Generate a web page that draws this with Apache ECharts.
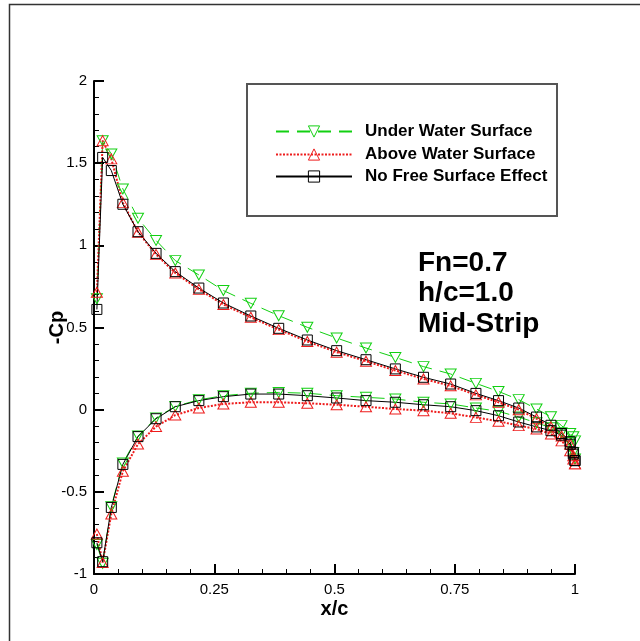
<!DOCTYPE html>
<html>
<head>
<meta charset="utf-8">
<script src="https://cdn.jsdelivr.net/npm/echarts@6/dist/echarts.min.js"></script>
<style>
html,body{margin:0;padding:0;background:#fff;}
#chart{width:640px;height:641px;}
</style>
</head>
<body>
<div id="chart"></div>
<script>
// x/c stations (shared by every curve)
const xs = [0.006,0.018,0.036,0.060,0.0915,0.129,0.169,0.218,0.269,0.326,0.384,0.4435,0.5045,0.5655,0.6265,0.685,0.7415,0.794,0.841,0.883,0.920,0.950,0.972,0.990,0.9965,1.0];

// -Cp, Under Water Surface
const underUpper = [0.675,1.637,1.556,1.343,1.165,1.03,0.907,0.82,0.725,0.647,0.572,0.501,0.436,0.375,0.318,0.262,0.217,0.16,0.111,0.061,0.004,-0.043,-0.097,-0.145,-0.165,-0.19];
const underLower = [-0.82,-0.935,-0.59,-0.325,-0.16,-0.05,0.02,0.06,0.085,0.1,0.105,0.1,0.085,0.075,0.065,0.045,0.035,0.01,-0.01,-0.045,-0.08,-0.11,-0.14,-0.2,-0.26,-0.3];

// -Cp, Above Water Surface
const aboveUpper = [0.714,1.637,1.526,1.26,1.08,0.945,0.832,0.732,0.64,0.562,0.487,0.415,0.35,0.295,0.238,0.187,0.145,0.09,0.045,0.0,-0.055,-0.105,-0.16,-0.21,-0.28,-0.33];
const aboveLower = [-0.757,-0.93,-0.635,-0.375,-0.209,-0.103,-0.033,0.01,0.035,0.045,0.045,0.039,0.03,0.018,0.004,-0.006,-0.022,-0.047,-0.071,-0.097,-0.118,-0.148,-0.19,-0.25,-0.3,-0.33];

// -Cp, No Free Surface Effect
const noneUpper = [0.61,1.535,1.455,1.25,1.083,0.951,0.84,0.74,0.649,0.570,0.495,0.424,0.359,0.304,0.248,0.197,0.156,0.099,0.055,0.01,-0.045,-0.095,-0.145,-0.195,-0.26,-0.31];
const noneLower = [-0.81,-0.925,-0.595,-0.333,-0.164,-0.055,0.018,0.055,0.079,0.095,0.095,0.085,0.071,0.055,0.045,0.03,0.018,-0.006,-0.037,-0.075,-0.105,-0.128,-0.155,-0.21,-0.27,-0.31];

const seriesNames = ['Under Water Surface','Above Water Surface','No Free Surface Effect'];
const xTicks = ['0','0.25','0.5','0.75','1'];
const annotation = ['Fn=0.7','h/c=1.0','Mid-Strip'];

const GREEN = '#12d012', RED = '#ee1c1c', BLACK = '#000000';
const pairs = arr => xs.map((x,i)=>[x, arr[i]]);

function mk(name, arr, color, dash, width, symbol, rot, size){
  return {
    name: name, type: 'line', data: pairs(arr),
    symbol: symbol, symbolSize: size, symbolRotate: rot,
    showSymbol: true, showAllSymbol: true,
    lineStyle: {color: color, width: width, type: dash},
    itemStyle: {color: 'rgba(0,0,0,0)', borderColor: color, borderWidth: 1},
    emphasis: {disabled: true}, animation: false, z: 3
  };
}

const sans = '"Liberation Sans",Arial,Helvetica,sans-serif';

const chart = echarts.init(document.getElementById('chart'), null, {renderer:'canvas'});
const legendTops = [123, 146, 168];
const option = {
  animation: false,
  backgroundColor: '#fff',
  grid: {left: 94, right: 65, top: 81, bottom: 67, containLabel: false},
  xAxis: {
    type: 'value', min: 0, max: 1, interval: 0.25,
    name: 'x/c', nameLocation: 'middle', nameGap: 25, nameMoveOverlap: false,
    nameTextStyle: {fontFamily: sans, fontWeight: 'bold', fontSize: 20, color: '#000'},
    axisLine: {show: true, onZero: false, lineStyle: {color: '#000', width: 2}},
    axisTick: {show: true, inside: true, length: 10, lineStyle: {color: '#000', width: 2}},
    minorTick: {show: true, splitNumber: 5, length: 5, lineStyle: {color: '#000', width: 1}},
    axisLabel: {fontFamily: sans, fontSize: 15, color: '#000', margin: 8,
      formatter: v => { const i = Math.round(v/0.25); return xTicks[i] !== undefined ? xTicks[i] : ''; }},
    splitLine: {show: false}
  },
  yAxis: {
    type: 'value', min: -1, max: 2, interval: 0.5,
    name: '-Cp', nameLocation: 'middle', nameGap: 27, nameRotate: 90, nameMoveOverlap: false,
    nameTextStyle: {fontFamily: sans, fontWeight: 'bold', fontSize: 20, color: '#000'},
    axisLine: {show: true, onZero: false, lineStyle: {color: '#000', width: 2}},
    axisTick: {show: true, inside: true, length: 10, lineStyle: {color: '#000', width: 2}},
    minorTick: {show: true, splitNumber: 5, length: 5, lineStyle: {color: '#000', width: 1}},
    axisLabel: {fontFamily: sans, fontSize: 15, color: '#000', margin: 7},
    splitLine: {show: false}
  },
  legend: seriesNames.map((n,i)=>({
    data: [{name: n}], orient: 'vertical', left: 275, top: legendTops[i],
    itemWidth: 76, itemHeight: 14, itemGap: 0, padding: 0,
    selectedMode: false,
    textStyle: {fontFamily: sans, fontWeight: 'bold', fontSize: 17, color: '#000', padding: [0,0,0,8]},
    itemStyle: {borderWidth: 1},
    symbolRotate: 'inherit'
  })),
  graphic: [
    {type: 'rect', shape: {x: 9.5, y: 4.5, width: 800, height: 800}, style: {fill: 'none', stroke: '#333', lineWidth: 1.5}, silent: true, z: 0},
    {type: 'rect', shape: {x: 247, y: 84, width: 310, height: 132}, style: {fill: '#fff', stroke: '#555', lineWidth: 2}, silent: true, z: 1},
    {type: 'text', left: 418, top: 249, style: {text: annotation[0], font: 'bold 28px ' + sans, fill: '#000'}, z: 5},
    {type: 'text', left: 418, top: 279, style: {text: annotation[1], font: 'bold 28px ' + sans, fill: '#000'}, z: 5},
    {type: 'text', left: 418, top: 310, style: {text: annotation[2], font: 'bold 28px ' + sans, fill: '#000'}, z: 5}
  ],
  series: [
    mk(seriesNames[0], underUpper, GREEN, [13,8], 1, 'triangle', 180, [11,10]),
    mk(seriesNames[0], underLower, GREEN, [13,8], 1, 'triangle', 180, [11,10]),
    mk(seriesNames[1], aboveUpper, RED, [2,1.5], 2, 'triangle', 0, [11,10]),
    mk(seriesNames[1], aboveLower, RED, [2,1.5], 2, 'triangle', 0, [11,10]),
    mk(seriesNames[2], noneUpper, BLACK, 'solid', 1, 'rect', 0, 10),
    mk(seriesNames[2], noneLower, BLACK, 'solid', 1, 'rect', 0, 10)
  ]
};
chart.setOption(option);
</script>
</body>
</html>
